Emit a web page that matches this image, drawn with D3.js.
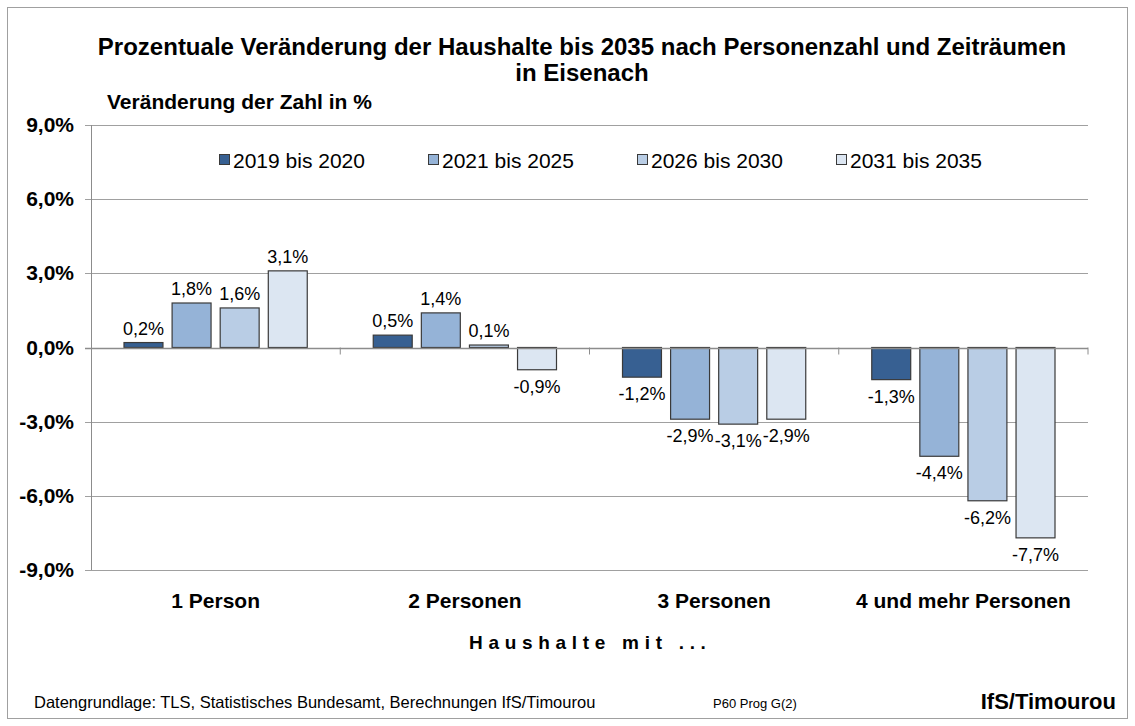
<!DOCTYPE html>
<html>
<head>
<meta charset="utf-8">
<script src="https://cdn.jsdelivr.net/npm/d3@7"></script>
<style>
  body { margin: 0; background: #fff; }
  text { font-family: "Liberation Sans", Arial, sans-serif; fill: #000; }
</style>
</head>
<body>
<svg id="chart"></svg>
<script>
var width = 1135, height = 726;

// data
var categories = ["1 Person", "2 Personen", "3 Personen", "4 und mehr Personen"];
var seriesNames = ["2019 bis 2020", "2021 bis 2025", "2026 bis 2030", "2031 bis 2035"];
var s2019_2020 = [0.2, 0.5, -1.2, -1.3];
var s2021_2025 = [1.8, 1.4, -2.9, -4.4];
var s2026_2030 = [1.6, 0.1, -3.1, -6.2];
var s2031_2035 = [3.1, -0.9, -2.9, -7.7];
var yTicks = [-9, -6, -3, 0, 3, 6, 9];

var seriesVals = [s2019_2020, s2021_2025, s2026_2030, s2031_2035];
var colors = ["#376092", "#95b3d7", "#b9cde5", "#dce6f2"];

var plot = { left: 91, right: 1088, top: 125, bottom: 570 };

// German number format with a plain hyphen
function fmt(v) {
  return d3.format(".1f")(v).replace("−", "-").replace(".", ",") + "%";
}

var svg = d3.select("#chart").attr("width", width).attr("height", height);

// outer frame
svg.append("rect")
  .attr("x", 7.5).attr("y", 7.5)
  .attr("width", 1120).attr("height", 711)
  .attr("fill", "#fff").attr("stroke", "#a0a0a0").attr("stroke-width", 1);

var x0 = d3.scaleBand().domain(categories).range([plot.left, plot.right]).paddingInner(0).paddingOuter(0);
var x1 = d3.scaleBand().domain(d3.range(seriesNames.length))
  .range([33, x0.bandwidth() - 33]).paddingInner(0.19).paddingOuter(0);
var y = d3.scaleLinear().domain([-9, 9]).range([plot.bottom, plot.top]);

// gridlines
svg.append("g").selectAll("line").data(yTicks.filter(function(t) { return t !== 0; })).enter()
  .append("line")
  .attr("x1", plot.left - 6).attr("x2", plot.right)
  .attr("y1", function(d) { return Math.round(y(d)) + 0.5; })
  .attr("y2", function(d) { return Math.round(y(d)) + 0.5; })
  .attr("stroke", "#a0a0a0").attr("stroke-width", 1);

// y axis line
svg.append("line")
  .attr("x1", plot.left + 0.5).attr("x2", plot.left + 0.5)
  .attr("y1", plot.top).attr("y2", plot.bottom)
  .attr("stroke", "#8c8c8c");

// y tick labels
svg.append("g").selectAll("text").data(yTicks).enter()
  .append("text")
  .attr("x", 74)
  .attr("y", function(d) { return y(d) + 7; })
  .attr("text-anchor", "end")
  .style("font-size", "21px").style("font-weight", "bold")
  .text(function(d) { return fmt(d); });

// bars
var groups = svg.append("g").selectAll("g").data(categories).enter()
  .append("g")
  .attr("transform", function(d) { return "translate(" + x0(d) + ",0)"; });

groups.selectAll("rect")
  .data(function(c, ci) { return seriesVals.map(function(s, si) { return { si: si, v: s[ci] }; }); })
  .enter().append("rect")
  .attr("x", function(d) { return x1(d.si); })
  .attr("width", x1.bandwidth())
  .attr("y", function(d) { return y(Math.max(0, d.v)); })
  .attr("height", function(d) { return Math.abs(y(d.v) - y(0)); })
  .attr("fill", function(d) { return colors[d.si]; })
  .attr("stroke", "#3a3a3a").attr("stroke-width", 1.2);

// value labels
groups.selectAll("text")
  .data(function(c, ci) { return seriesVals.map(function(s, si) { return { si: si, v: s[ci] }; }); })
  .enter().append("text")
  .attr("x", function(d) { return x1(d.si) + x1.bandwidth() / 2; })
  .attr("y", function(d) { return d.v >= 0 ? y(d.v) - 8 : y(d.v) + 23; })
  .attr("text-anchor", "middle")
  .style("font-size", "18px")
  .text(function(d) { return fmt(d.v); });

// zero line
svg.append("line")
  .attr("x1", plot.left - 6).attr("x2", plot.right)
  .attr("y1", Math.round(y(0)) + 0.5).attr("y2", Math.round(y(0)) + 0.5)
  .attr("stroke", "#8c8c8c").attr("stroke-width", 1.5);

// category tick marks
svg.append("g").selectAll("line").data(categories.slice(1).concat(["end"])).enter()
  .append("line")
  .attr("x1", function(d) { return d === "end" ? plot.right : x0(d); })
  .attr("x2", function(d) { return d === "end" ? plot.right : x0(d); })
  .attr("y1", y(0)).attr("y2", y(0) + 7)
  .attr("stroke", "#8c8c8c");

// category labels
svg.append("g").selectAll("text").data(categories).enter()
  .append("text")
  .attr("x", function(d) { return x0(d) + x0.bandwidth() / 2; })
  .attr("y", 608)
  .attr("text-anchor", "middle")
  .style("font-size", "21px").style("font-weight", "bold")
  .text(function(d) { return d; });

// legend
var legendX = [219, 428, 637, 836];
var legend = svg.append("g").selectAll("g").data(seriesNames).enter()
  .append("g")
  .attr("transform", function(d, i) { return "translate(" + legendX[i] + ",160)"; });
legend.append("rect")
  .attr("x", 0.5).attr("y", -5.5).attr("width", 10).attr("height", 10)
  .attr("fill", function(d, i) { return colors[i]; })
  .attr("stroke", "#3a3a3a");
legend.append("text")
  .attr("x", 14).attr("y", 7.5)
  .style("font-size", "21px")
  .text(function(d) { return d; });

// titles
svg.append("text").attr("x", 582).attr("y", 55).attr("text-anchor", "middle")
  .style("font-size", "24px").style("font-weight", "bold")
  .text("Prozentuale Veränderung der Haushalte bis 2035 nach Personenzahl und Zeiträumen");
svg.append("text").attr("x", 582).attr("y", 81).attr("text-anchor", "middle")
  .style("font-size", "24px").style("font-weight", "bold")
  .text("in Eisenach");
svg.append("text").attr("x", 107).attr("y", 109)
  .style("font-size", "21px").style("font-weight", "bold")
  .text("Veränderung der Zahl in %");

svg.append("text").attr("x", 469).attr("y", 649)
  .style("font-size", "19px").style("font-weight", "bold").style("letter-spacing", "5.7px")
  .text("Haushalte mit ...");

// footer
svg.append("text").attr("x", 34).attr("y", 708)
  .style("font-size", "16.5px")
  .text("Datengrundlage: TLS, Statistisches Bundesamt, Berechnungen IfS/Timourou");
svg.append("text").attr("x", 713).attr("y", 708)
  .style("font-size", "13px")
  .text("P60 Prog G(2)");
svg.append("text").attr("x", 1116).attr("y", 709).attr("text-anchor", "end")
  .style("font-size", "22px").style("font-weight", "bold")
  .text("IfS/Timourou");
</script>
</body>
</html>
